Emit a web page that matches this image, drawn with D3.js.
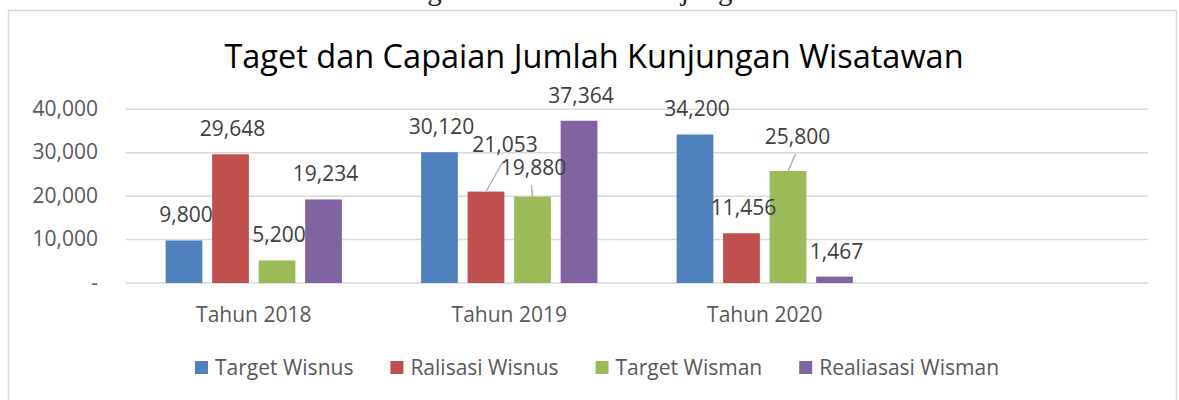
<!DOCTYPE html>
<html>
<head>
<meta charset="utf-8">
<script src="https://cdn.jsdelivr.net/npm/d3@7"></script>
<style>
  body { margin: 0; background: #fff; }
  svg { display: block; }
</style>
</head>
<body>
<div class="vis"></div>
<script>
var w = 1179;
var h = 400;

// Data (last category slot is empty in the original)
var categories = ["Tahun 2018", "Tahun 2019", "Tahun 2020", ""];
var seriesNames = ["Target Wisnus", "Ralisasi Wisnus", "Target Wisman", "Realiasasi Wisman"];
var targetWisnus = [9800, 30120, 34200];
var ralisasiWisnus = [29648, 21053, 11456];
var targetWisman = [5200, 19880, 25800];
var realisasiWisman = [19234, 37364, 1467];
var yTicks = [0, 10000, 20000, 30000, 40000];

var seriesValues = [targetWisnus, ralisasiWisnus, targetWisman, realisasiWisman];
var colors = ["#4F81BD", "#C0504D", "#9BBB59", "#8064A2"];

// labels that were dragged aside in the original (series index, category index)
var labelNudge = {
    "1-1": [19, -22],
    "2-1": [1, -3.5],
    "2-2": [9.5, -9]
};

var svg = d3.select(".vis")
    .append("svg")
    .attr("width", w)
    .attr("height", h);

// caption of the document, cut off at top as in the original
svg.append("text")
    .attr("x", 570)
    .attr("y", 0)
    .attr("text-anchor", "middle")
    .attr("font-family", "Liberation Serif, serif")
    .attr("font-size", 29)
    .attr("fill", "#222")
    .text("Gambar 4.1 Target dan Realisasi Kunjungan Wisatawan");

// chart border
svg.append("rect")
    .attr("x", 8.5)
    .attr("y", 10.5)
    .attr("width", 1168)
    .attr("height", 400)
    .attr("fill", "#fff")
    .attr("stroke", "#d9d9d9")
    .attr("stroke-width", 1.5);

// title
svg.append("text")
    .attr("x", 594)
    .attr("y", 68)
    .attr("text-anchor", "middle")
    .attr("font-family", "Open Sans")
    .attr("font-size", 32.5)
    .attr("fill", "#000")
    .text("Taget dan Capaian Jumlah Kunjungan Wisatawan");

//Scales
var x0 = d3.scaleBand()
    .domain(categories)
    .range([126, 1148])
    .paddingInner(0.31)
    .paddingOuter(0.155);

var x1 = d3.scaleBand()
    .domain(seriesNames)
    .range([0, x0.bandwidth()])
    .paddingInner(0.21);

var y = d3.scaleLinear()
    .domain([0, 40000])
    .range([283, 109.3]);

var fmt = d3.format(",");

// gridlines
svg.selectAll(".grid")
    .data(yTicks)
    .enter()
    .append("line")
    .attr("x1", 126)
    .attr("x2", 1148)
    .attr("y1", d => y(d))
    .attr("y2", d => y(d))
    .attr("stroke", "#d9d9d9")
    .attr("stroke-width", 1.5);

// y labels
svg.selectAll(".ylab")
    .data(yTicks)
    .enter()
    .append("text")
    .attr("x", 98)
    .attr("y", d => y(d) + 6.5)
    .attr("text-anchor", "end")
    .attr("font-family", "Open Sans")
    .attr("font-size", 21)
    .attr("fill", "#595959")
    .text(d => d === 0 ? "-" : fmt(d));

// x labels
svg.selectAll(".xlab")
    .data(categories)
    .enter()
    .append("text")
    .attr("x", d => x0(d) + x0.bandwidth() / 2)
    .attr("y", 321.7)
    .attr("text-anchor", "middle")
    .attr("font-family", "Open Sans")
    .attr("font-size", 21)
    .attr("fill", "#595959")
    .text(d => d);

// build flat list of bars
var bars = [];
seriesValues.forEach((vals, si) => {
    vals.forEach((v, ci) => {
        bars.push({ si: si, ci: ci, name: seriesNames[si], cat: categories[ci], value: v });
    });
});

svg.selectAll(".bar")
    .data(bars)
    .enter()
    .append("rect")
    .attr("x", d => x0(d.cat) + x1(d.name))
    .attr("y", d => y(d.value))
    .attr("width", x1.bandwidth())
    .attr("height", d => y(0) - y(d.value))
    .attr("fill", d => colors[d.si]);

// data labels
bars.forEach(d => {
    var cx = x0(d.cat) + x1(d.name) + x1.bandwidth() / 2;
    var top = y(d.value);
    var nudge = labelNudge[d.si + "-" + d.ci];
    var lx = cx + 2;
    var ly = top - 18;
    if (nudge) {
        lx = cx + nudge[0];
        ly = top - 18 + nudge[1];
        // leader line
        svg.append("line")
            .attr("x1", cx)
            .attr("y1", top)
            .attr("x2", lx - 2)
            .attr("y2", ly + 10)
            .attr("stroke", "#a6a6a6")
            .attr("stroke-width", 1.2);
    }
    svg.append("text")
        .attr("x", lx)
        .attr("y", ly)
        .attr("text-anchor", "middle")
        .attr("font-family", "Open Sans")
        .attr("font-size", 21)
        .attr("fill", "#404040")
        .text(fmt(d.value));
});

// legend
var legend = svg.append("g");
var lxPos = 0;
seriesNames.forEach((name, i) => {
    var item = legend.append("g").attr("transform", "translate(" + lxPos + ",0)");
    item.append("rect")
        .attr("x", 0)
        .attr("y", 361)
        .attr("width", 13)
        .attr("height", 13)
        .attr("fill", colors[i]);
    var t = item.append("text")
        .attr("x", 20)
        .attr("y", 375)
        .attr("font-family", "Open Sans")
        .attr("font-size", 21)
        .attr("fill", "#595959")
        .text(name);
    lxPos += 20 + t.node().getComputedTextLength() + 37;
});
var legendWidth = lxPos - 37;
legend.attr("transform", "translate(" + (597 - legendWidth / 2) + ",0)");
</script>
</body>
</html>
